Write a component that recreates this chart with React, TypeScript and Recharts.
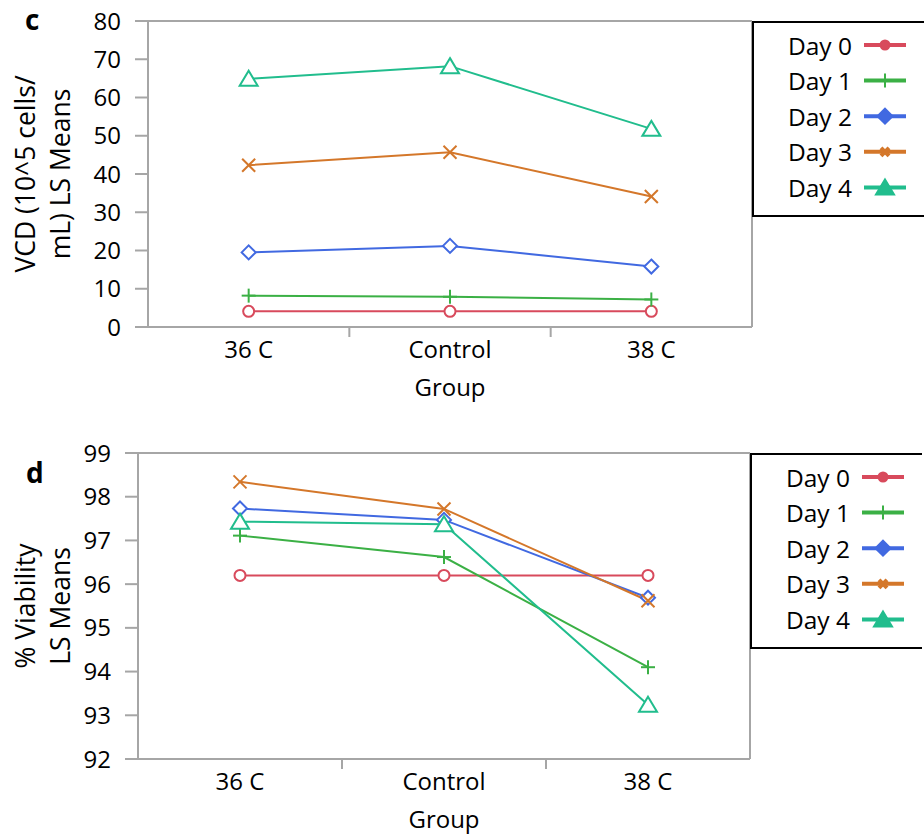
import React from 'react';
import { LineChart, Line, XAxis, YAxis, Legend, ReferenceLine } from 'recharts';

const categories = ['36 C', 'Control', '38 C'];
const seriesNames = ['Day 0', 'Day 1', 'Day 2', 'Day 3', 'Day 4'];
const seriesKeys = ['d0', 'd1', 'd2', 'd3', 'd4'];
const seriesColors = ['#d84a5c', '#3bb045', '#4169e1', '#d4772a', '#21bd8d'];
const seriesShapes = ['circle', 'plus', 'diamond', 'cross', 'triangle'];

// Panel c: VCD (10^5 cells/mL) LS Means
const vcdDay0 = [4.1, 4.1, 4.1];
const vcdDay1 = [8.2, 7.9, 7.2];
const vcdDay2 = [19.5, 21.2, 15.8];
const vcdDay3 = [42.3, 45.7, 34.1];
const vcdDay4 = [64.9, 68.2, 51.8];
const vcdTicks = [0, 10, 20, 30, 40, 50, 60, 70, 80];

// Panel d: % Viability LS Means
const viaDay0 = [96.2, 96.2, 96.2];
const viaDay1 = [97.11, 96.62, 94.1];
const viaDay2 = [97.73, 97.47, 95.69];
const viaDay3 = [98.34, 97.72, 95.62];
const viaDay4 = [97.43, 97.37, 93.24];
const viaTicks = [92, 93, 94, 95, 96, 97, 98, 99];

const xTicks = [0, 0.5, 1, 1.5, 2];

const FONT = '"Open Sans", sans-serif';
const GREY = '#a6a6a6';
const TICK_FS = 24;
const LABEL_FS = 24;
const YLABEL_FS = 26.5;
const LEGEND_FS = 24.5;

const buildRows = (series: number[][]) =>
  categories.map((c, i) => {
    const row: any = { x: i, name: c };
    seriesKeys.forEach((k, j) => {
      row[k] = series[j][i];
    });
    return row;
  });

const vcdData = buildRows([vcdDay0, vcdDay1, vcdDay2, vcdDay3, vcdDay4]);
const viaData = buildRows([viaDay0, viaDay1, viaDay2, viaDay3, viaDay4]);

const Marker = ({ cx, cy, shape, color, filled }: any) => {
  if (cx == null || cy == null) return null;
  const sw = 2;
  switch (shape) {
    case 'circle':
      return <circle cx={cx} cy={cy} r={filled ? 4.5 : 5.5} fill={filled ? color : 'white'} stroke={color} strokeWidth={sw} />;
    case 'plus':
      return (
        <g stroke={color} strokeWidth={sw}>
          <line x1={cx - 7} x2={cx + 7} y1={cy} y2={cy} />
          <line x1={cx} x2={cx} y1={cy - 7} y2={cy + 7} />
        </g>
      );
    case 'diamond': {
      const s = filled ? 7.5 : 7;
      return (
        <polygon
          points={`${cx},${cy - s} ${cx + s},${cy} ${cx},${cy + s} ${cx - s},${cy}`}
          fill={filled ? color : 'white'}
          stroke={color}
          strokeWidth={sw}
        />
      );
    }
    case 'cross': {
      const s = filled ? 4 : 6.5;
      return (
        <g stroke={color} strokeWidth={filled ? 4 : sw}>
          <line x1={cx - s} x2={cx + s} y1={cy - s} y2={cy + s} />
          <line x1={cx - s} x2={cx + s} y1={cy + s} y2={cy - s} />
        </g>
      );
    }
    case 'triangle':
      return (
        <polygon
          points={`${cx},${cy - 8} ${cx + 9},${cy + 7} ${cx - 9},${cy + 7}`}
          fill={filled ? color : 'white'}
          stroke={color}
          strokeWidth={sw}
        />
      );
    default:
      return <circle cx={cx} cy={cy} r={4} fill={color} stroke={color} />;
  }
};

const XTick = (props: any) => {
  const { x, y, payload } = props;
  const v = payload.value;
  if (Number.isInteger(v)) {
    return (
      <text x={x} y={y + 21} textAnchor="middle" dominantBaseline="central" fontSize={TICK_FS} fill="#000" style={{ fontFamily: FONT }}>
        {categories[v]}
      </text>
    );
  }
  return <line x1={x} x2={x} y1={y} y2={y + 10} stroke={GREY} strokeWidth={2} />;
};

const XLabel = (props: any) => {
  const vb = props.viewBox || {};
  return (
    <text x={vb.x + vb.width / 2} y={vb.y + 59} textAnchor="middle" dominantBaseline="central" fontSize={LABEL_FS} fill="#000" style={{ fontFamily: FONT }}>
      Group
    </text>
  );
};

const makeYLabel = (lines: string[]) => (props: any) => {
  const vb = props.viewBox || {};
  const cy = vb.y + vb.height / 2;
  const xs = [vb.x + 25, vb.x + 60];
  return (
    <g>
      {lines.map((l, i) => (
        <text
          key={i}
          x={xs[i]}
          y={cy}
          transform={`rotate(-90 ${xs[i]} ${cy})`}
          textAnchor="middle"
          dominantBaseline="central"
          fontSize={YLABEL_FS}
          fill="#000"
          style={{ fontFamily: FONT }}
        >
          {l}
        </text>
      ))}
    </g>
  );
};

const LegendBox = (props: any) => {
  const payload = props.payload && props.payload.length ? props.payload : seriesNames.map((n, i) => ({ value: n, color: seriesColors[i] }));
  return (
    <svg width={172} height={196} style={{ display: 'block', fontFamily: FONT }}>
      <rect x={1} y={1} width={185} height={194} fill="white" stroke="#000" strokeWidth={2} />
      {payload.map((p: any, i: number) => {
        const idx = seriesNames.indexOf(p.value);
        const k = idx < 0 ? i : idx;
        const y = 24 + k * 35.6;
        const color = seriesColors[k];
        return (
          <g key={p.value}>
            <text x={100} y={y} textAnchor="end" dominantBaseline="central" fontSize={LEGEND_FS} fill="#000">
              {p.value}
            </text>
            <line x1={112} x2={154} y1={y} y2={y} stroke={color} strokeWidth={4} />
            <Marker cx={133} cy={y} shape={seriesShapes[k]} color={color} filled />
          </g>
        );
      })}
    </svg>
  );
};

const renderLines = () =>
  seriesKeys.map((k, i) => (
    <Line
      key={k}
      dataKey={k}
      name={seriesNames[i]}
      stroke={seriesColors[i]}
      strokeWidth={2}
      isAnimationActive={false}
      dot={(p: any) => <Marker key={`${k}-${p.index}`} cx={p.cx} cy={p.cy} shape={seriesShapes[i]} color={seriesColors[i]} />}
      activeDot={false}
    />
  ));

const Panel = ({ data, domain, ticks, yLines, yWidth, margin, height, legendLeft, legendTop }: any) => (
  <LineChart width={924} height={height} data={data} margin={margin} style={{ fontFamily: FONT }}>
    <XAxis
      dataKey="x"
      type="number"
      domain={[-0.5, 2.5]}
      ticks={xTicks}
      interval={0}
      tick={<XTick />}
      tickLine={false}
      tickSize={0}
      tickMargin={0}
      height={60}
      axisLine={{ stroke: GREY, strokeWidth: 2 }}
      label={<XLabel />}
    />
    <YAxis
      type="number"
      domain={domain}
      ticks={ticks}
      interval={0}
      width={yWidth}
      tickSize={13}
      tickMargin={14}
      tick={{ fontSize: TICK_FS, fill: '#000', fontFamily: FONT }}
      tickLine={{ stroke: GREY, strokeWidth: 2 }}
      axisLine={{ stroke: GREY, strokeWidth: 2 }}
      label={makeYLabel(yLines)}
    />
    <ReferenceLine y={domain[1]} stroke={GREY} strokeWidth={2} ifOverflow="visible" />
    <ReferenceLine x={2.5} stroke={GREY} strokeWidth={2} ifOverflow="visible" />
    {renderLines()}
    <Legend
      layout="vertical"
      align="center"
      verticalAlign="middle"
      content={<LegendBox />}
      wrapperStyle={{ left: legendLeft, top: legendTop, width: 172, height: 196, margin: 0, padding: 0 }}
    />
  </LineChart>
);

export default function App() {
  return (
    <div style={{ position: 'absolute', left: 0, top: 0, width: 924, height: 834, background: '#fff', fontFamily: FONT }}>
      <div style={{ position: 'absolute', left: 0, top: 0 }}>
        <Panel
          data={vcdData}
          domain={[0, 80]}
          ticks={vcdTicks}
          yLines={['VCD (10^5 cells/', 'mL) LS Means']}
          yWidth={148}
          margin={{ top: 21, right: 172, bottom: 23, left: 0 }}
          height={410}
          legendLeft={752}
          legendTop={21}
        />
      </div>
      <div style={{ position: 'absolute', left: 0, top: 420 }}>
        <Panel
          data={viaData}
          domain={[92, 99]}
          ticks={viaTicks}
          yLines={['% Viability', 'LS Means']}
          yWidth={138}
          margin={{ top: 33, right: 174, bottom: 15, left: 0 }}
          height={414}
          legendLeft={750}
          legendTop={33}
        />
      </div>
      <div style={{ position: 'absolute', left: 25, top: 3, fontSize: 28, fontWeight: 'bold', lineHeight: '32px' }}>c</div>
      <div style={{ position: 'absolute', left: 26, top: 456, fontSize: 28, fontWeight: 'bold', lineHeight: '32px' }}>d</div>
    </div>
  );
}
